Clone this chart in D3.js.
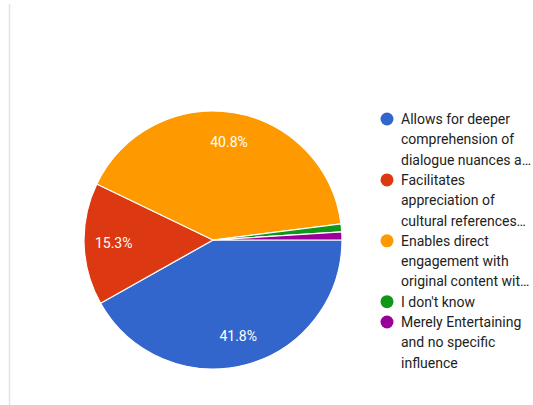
<!DOCTYPE html>
<html>
<head>
<meta charset="utf-8">
<script src="https://cdn.jsdelivr.net/npm/d3@7"></script>
<style>
  html, body { margin: 0; padding: 0; background: #fff; }
  svg { display: block; font-family: Roboto, "Noto Sans", Arial, sans-serif; }
</style>
</head>
<body>
<svg id="chart" width="533" height="405"></svg>
<script>
// Responses (percent of respondents)
const categories = [
  "Allows for deeper comprehension of dialogue nuances a\u2026",
  "Facilitates appreciation of cultural references\u2026",
  "Enables direct engagement with original content wit\u2026",
  "I don't know",
  "Merely Entertaining and no specific influence"
];
const legendLines = [
  ["Allows for deeper", "comprehension of", "dialogue nuances a\u2026"],
  ["Facilitates", "appreciation of", "cultural references\u2026"],
  ["Enables direct", "engagement with", "original content wit\u2026"],
  ["I don't know"],
  ["Merely Entertaining", "and no specific", "influence"]
];
const values = [41.8, 15.3, 40.8, 1.0, 1.0];
const colors = ["#3366cc", "#dc3912", "#ff9900", "#109618", "#990099"];

const svg = d3.select("#chart");

// thin frame line on the left
svg.append("line")
  .attr("x1", 9.5).attr("x2", 9.5).attr("y1", 4).attr("y2", 405)
  .attr("stroke", "#e2e2e2").attr("stroke-width", 1.5);

const cx = 213, cy = 240, r = 129;
const g = svg.append("g").attr("transform", `translate(${cx},${cy})`);

const pie = d3.pie().sort(null).value(d => d)
  .startAngle(Math.PI / 2).endAngle(Math.PI / 2 + 2 * Math.PI);
const arcs = pie(values);
const arc = d3.arc().innerRadius(0).outerRadius(r);

g.selectAll("path.slice").data(arcs).enter().append("path")
  .attr("class", "slice")
  .attr("d", arc)
  .attr("fill", (d, i) => colors[i])
  .attr("stroke", "#fff").attr("stroke-width", 1.2);

// percentage labels for the larger slices
const labelArc = d3.arc().innerRadius(r * 0.77).outerRadius(r * 0.77);
g.selectAll("text.pct").data(arcs.filter(d => d.value > 5)).enter().append("text")
  .attr("class", "pct")
  .attr("transform", d => {
    const [x, y] = labelArc.centroid(d);
    return `translate(${x},${y})`;
  })
  .attr("text-anchor", "middle")
  .attr("dominant-baseline", "central")
  .attr("fill", "#fff")
  .attr("font-size", 14)
  .text(d => d.value.toFixed(1) + "%");

// legend
const lx = 387, ly0 = 119, lh = 20.3;
let lineIdx = 0;
const legend = svg.append("g");
categories.forEach((c, i) => {
  const y = ly0 + lineIdx * lh;
  legend.append("circle")
    .attr("cx", lx).attr("cy", y).attr("r", 6.5)
    .attr("fill", colors[i]);
  const t = legend.append("text")
    .attr("x", lx + 14).attr("y", y)
    .attr("dominant-baseline", "central")
    .attr("fill", "#222")
    .attr("font-size", 14);
  legendLines[i].forEach((ln, j) => {
    t.append("tspan").attr("x", lx + 14).attr("y", y + j * lh).text(ln);
  });
  lineIdx += legendLines[i].length;
});
</script>
</body>
</html>
